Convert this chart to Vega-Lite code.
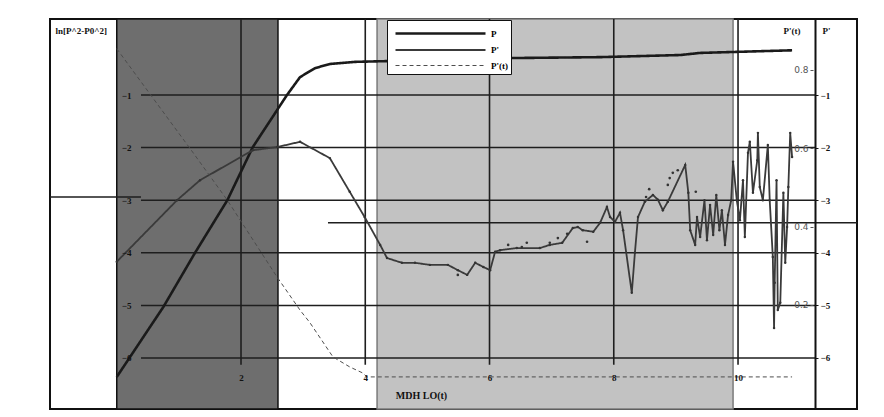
{
  "$schema": "https://vega.github.io/schema/vega-lite/v6.json",
  "width": 807,
  "height": 390,
  "autosize": {"type": "none"},
  "padding": {"left": 50, "top": 19, "right": 27, "bottom": 8},
  "background": "white",
  "config": {
    "view": {"stroke": "#111", "strokeWidth": 2},
    "axis": {
      "labelFont": "Liberation Serif", "titleFont": "Liberation Serif",
      "labelFontWeight": "bold", "titleFontWeight": "bold",
      "labelFontSize": 9, "titleFontSize": 9,
      "labelColor": "#111", "titleColor": "#111",
      "grid": false, "zindex": 1
    }
  },
  "datasets": {
    "bands": [{"x": 0, "x2": 2.595, "zone": "dark"}, {"x": 4.19, "x2": 9.92, "zone": "light"}],
    "hgrid": [{"y": -1}, {"y": -2}, {"y": -3}, {"y": -4}, {"y": -5}, {"y": -6}],
    "vgrid": [{"x": 2}, {"x": 4}, {"x": 6}, {"x": 8}, {"x": 10}],
    "extra": [{"x": -1.075, "x2": 0.39, "y": -2.94}, {"x": 3.4, "x2": 11.915, "y": -3.43}],
    "ptick": [{"v": 0.2}, {"v": 0.4}, {"v": 0.6}, {"v": 0.8}],
    "dots": [
      {"x": 5.49, "y": -4.42}, {"x": 6.3, "y": -3.85}, {"x": 6.52, "y": -3.89}, {"x": 6.6, "y": -3.81},
      {"x": 6.97, "y": -3.81}, {"x": 7.1, "y": -3.72}, {"x": 7.25, "y": -3.64}, {"x": 7.57, "y": -3.79},
      {"x": 8.52, "y": -2.94}, {"x": 8.57, "y": -2.79}, {"x": 8.87, "y": -2.71}, {"x": 8.9, "y": -2.58},
      {"x": 8.95, "y": -2.48}, {"x": 9.03, "y": -2.43}, {"x": 9.32, "y": -2.84}
    ],
    "series": [
      {"s": "P", "x": 0, "y": -6.36}, {"s": "P", "x": 0.75, "y": -5.03}, {"s": "P", "x": 1.26, "y": -4.0},
      {"s": "P", "x": 1.78, "y": -3.0}, {"s": "P", "x": 2.19, "y": -1.99}, {"s": "P", "x": 2.74, "y": -1.0},
      {"s": "P", "x": 2.95, "y": -0.66}, {"s": "P", "x": 3.19, "y": -0.49}, {"s": "P", "x": 3.43, "y": -0.41},
      {"s": "P", "x": 3.83, "y": -0.37}, {"s": "P", "x": 4.56, "y": -0.35}, {"s": "P", "x": 6.17, "y": -0.3},
      {"s": "P", "x": 7.78, "y": -0.28}, {"s": "P", "x": 9.07, "y": -0.24}, {"s": "P", "x": 9.39, "y": -0.2},
      {"s": "P", "x": 10.87, "y": -0.15},
      {"s": "P'", "x": 0, "y": -4.17}, {"s": "P'", "x": 0.97, "y": -3.0}, {"s": "P'", "x": 1.34, "y": -2.62},
      {"s": "P'", "x": 2.19, "y": -2.05}, {"s": "P'", "x": 2.58, "y": -1.99}, {"s": "P'", "x": 2.95, "y": -1.89},
      {"s": "P'", "x": 3.43, "y": -2.2}, {"s": "P'", "x": 3.75, "y": -2.84}, {"s": "P'", "x": 3.99, "y": -3.32},
      {"s": "P'", "x": 4.24, "y": -3.85}, {"s": "P'", "x": 4.35, "y": -4.1}, {"s": "P'", "x": 4.59, "y": -4.19},
      {"s": "P'", "x": 4.8, "y": -4.19}, {"s": "P'", "x": 5.04, "y": -4.23}, {"s": "P'", "x": 5.33, "y": -4.23},
      {"s": "P'", "x": 5.49, "y": -4.33}, {"s": "P'", "x": 5.64, "y": -4.42}, {"s": "P'", "x": 5.77, "y": -4.19},
      {"s": "P'", "x": 5.9, "y": -4.27}, {"s": "P'", "x": 6.01, "y": -4.33}, {"s": "P'", "x": 6.09, "y": -3.98},
      {"s": "P'", "x": 6.17, "y": -3.95}, {"s": "P'", "x": 6.44, "y": -3.91}, {"s": "P'", "x": 6.81, "y": -3.91},
      {"s": "P'", "x": 6.97, "y": -3.85}, {"s": "P'", "x": 7.17, "y": -3.81}, {"s": "P'", "x": 7.34, "y": -3.53},
      {"s": "P'", "x": 7.42, "y": -3.51}, {"s": "P'", "x": 7.5, "y": -3.57}, {"s": "P'", "x": 7.67, "y": -3.6},
      {"s": "P'", "x": 7.78, "y": -3.43}, {"s": "P'", "x": 7.89, "y": -3.13}, {"s": "P'", "x": 7.94, "y": -3.32},
      {"s": "P'", "x": 8.02, "y": -3.41}, {"s": "P'", "x": 8.1, "y": -3.24}, {"s": "P'", "x": 8.15, "y": -3.57},
      {"s": "P'", "x": 8.29, "y": -4.76}, {"s": "P'", "x": 8.34, "y": -4.0}, {"s": "P'", "x": 8.39, "y": -3.32},
      {"s": "P'", "x": 8.5, "y": -3.03}, {"s": "P'", "x": 8.63, "y": -2.9}, {"s": "P'", "x": 8.71, "y": -2.99},
      {"s": "P'", "x": 8.79, "y": -3.19}, {"s": "P'", "x": 8.87, "y": -3.03}, {"s": "P'", "x": 9.15, "y": -2.33},
      {"s": "P'", "x": 9.2, "y": -2.86}, {"s": "P'", "x": 9.23, "y": -3.57}, {"s": "P'", "x": 9.31, "y": -3.85},
      {"s": "P'", "x": 9.34, "y": -3.32}, {"s": "P'", "x": 9.39, "y": -3.7}, {"s": "P'", "x": 9.46, "y": -3.0},
      {"s": "P'", "x": 9.5, "y": -3.76}, {"s": "P'", "x": 9.55, "y": -3.09}, {"s": "P'", "x": 9.6, "y": -3.66},
      {"s": "P'", "x": 9.65, "y": -2.9}, {"s": "P'", "x": 9.7, "y": -3.57}, {"s": "P'", "x": 9.74, "y": -3.19},
      {"s": "P'", "x": 9.79, "y": -3.85}, {"s": "P'", "x": 9.84, "y": -3.28}, {"s": "P'", "x": 9.89, "y": -3.0},
      {"s": "P'", "x": 9.92, "y": -2.27}, {"s": "P'", "x": 9.98, "y": -3.0}, {"s": "P'", "x": 10.03, "y": -3.38},
      {"s": "P'", "x": 10.08, "y": -2.62}, {"s": "P'", "x": 10.11, "y": -3.7}, {"s": "P'", "x": 10.16, "y": -2.1},
      {"s": "P'", "x": 10.19, "y": -1.89}, {"s": "P'", "x": 10.24, "y": -2.86}, {"s": "P'", "x": 10.31, "y": -2.24},
      {"s": "P'", "x": 10.32, "y": -1.72}, {"s": "P'", "x": 10.35, "y": -2.75}, {"s": "P'", "x": 10.4, "y": -3.0},
      {"s": "P'", "x": 10.48, "y": -1.95}, {"s": "P'", "x": 10.51, "y": -3.0}, {"s": "P'", "x": 10.56, "y": -4.08},
      {"s": "P'", "x": 10.58, "y": -5.43}, {"s": "P'", "x": 10.59, "y": -4.57}, {"s": "P'", "x": 10.62, "y": -2.62},
      {"s": "P'", "x": 10.64, "y": -5.09}, {"s": "P'", "x": 10.68, "y": -4.95}, {"s": "P'", "x": 10.73, "y": -2.86},
      {"s": "P'", "x": 10.76, "y": -4.19}, {"s": "P'", "x": 10.79, "y": -3.51}, {"s": "P'", "x": 10.81, "y": -2.75},
      {"s": "P'", "x": 10.84, "y": -1.72}, {"s": "P'", "x": 10.87, "y": -2.18},
      {"s": "P'(t)", "x": 0, "y": -0.12}, {"s": "P'(t)", "x": 0.54, "y": -0.99}, {"s": "P'(t)", "x": 1.2, "y": -2.05},
      {"s": "P'(t)", "x": 1.78, "y": -3.0}, {"s": "P'(t)", "x": 2.58, "y": -4.46}, {"s": "P'(t)", "x": 2.95, "y": -5.09},
      {"s": "P'(t)", "x": 3.11, "y": -5.33}, {"s": "P'(t)", "x": 3.48, "y": -5.98}, {"s": "P'(t)", "x": 3.75, "y": -6.17},
      {"s": "P'(t)", "x": 3.95, "y": -6.28}, {"s": "P'(t)", "x": 4.03, "y": -6.36}, {"s": "P'(t)", "x": 6.0, "y": -6.36},
      {"s": "P'(t)", "x": 8.0, "y": -6.36}, {"s": "P'(t)", "x": 10.87, "y": -6.36}
    ]
  },
  "layer": [
    {
      "layer": [
        {
          "data": {"name": "bands"},
          "mark": {"type": "rect", "strokeWidth": 1.5},
          "encoding": {
            "x": {
              "field": "x", "type": "quantitative",
              "scale": {"domain": [-1.0745, 11.915], "nice": false, "zero": false},
              "axis": {
                "orient": "bottom", "offset": -36, "values": [2, 4, 6, 8, 10], "format": "d",
                "labelOverlap": false, "labelFlush": false, "zindex": 2,
                "domain": false, "ticks": false, "labelPadding": 0,
                "title": "MDH LO(t)", "titleX": 371, "titleY": 22,
                "titleAlign": "center", "titleBaseline": "middle", "titleFontSize": 10
              }
            },
            "x2": {"field": "x2"},
            "fill": {"field": "zone", "type": "nominal", "scale": {"domain": ["dark", "light"], "range": ["#6e6e6e", "#c2c2c2"]}, "legend": null},
            "stroke": {"field": "zone", "type": "nominal", "scale": {"domain": ["dark", "light"], "range": ["#111111", "#7a7a7a"]}, "legend": null}
          }
        },
        {
          "data": {"name": "hgrid"},
          "mark": {"type": "rule", "color": "#1e1e1e", "strokeWidth": 1.5},
          "encoding": {
            "x": {
              "datum": 0.39, "type": "quantitative",
              "axis": {
                "orient": "bottom", "offset": -36, "values": [2, 4, 6, 8, 10], "format": "d",
                "labelOverlap": false, "labelFlush": false, "zindex": 2,
                "domain": false, "ticks": false, "labelPadding": 0,
                "title": "MDH LO(t)", "titleX": 371, "titleY": 22,
                "titleAlign": "center", "titleBaseline": "middle", "titleFontSize": 10
              }
            },
            "x2": {"datum": 11.24},
            "y": {
              "field": "y", "type": "quantitative",
              "scale": {"domain": [-6.97, 0.445], "nice": false, "zero": false},
              "axis": {
                "orient": "left", "offset": -85, "values": [-1, -2, -3, -4, -5, -6],
                "domain": false, "ticks": false, "labelPadding": 4, "zindex": 2,
                "title": "ln[P^2-P0^2]", "titleAngle": 0, "titleX": -80, "titleY": 11,
                "titleAlign": "left", "titleBaseline": "middle"
              }
            }
          }
        },
        {
          "data": {"name": "extra"},
          "mark": {"type": "rule", "color": "#1e1e1e", "strokeWidth": 1.5},
          "encoding": {
            "x": {"field": "x", "type": "quantitative", "axis": {"title": "MDH LO(t)", "zindex": 2}},
            "x2": {"field": "x2"},
            "y": {"field": "y", "type": "quantitative"}
          }
        },
        {
          "data": {"name": "vgrid"},
          "mark": {"type": "rule", "color": "#1e1e1e", "strokeWidth": 1.6},
          "encoding": {
            "x": {"field": "x", "type": "quantitative", "axis": {"title": "MDH LO(t)", "zindex": 2}},
            "y": {"datum": 0.445, "type": "quantitative"},
            "y2": {"datum": -6.13}
          }
        },
        {
          "data": {"name": "series"},
          "mark": {"type": "line"},
          "encoding": {
            "x": {"field": "x", "type": "quantitative", "axis": {"title": "MDH LO(t)", "zindex": 2}},
            "y": {"field": "y", "type": "quantitative"},
            "color": {
              "field": "s", "type": "nominal",
              "scale": {"domain": ["P", "P'", "P'(t)"], "range": ["#1a1a1a", "#3a3a3a", "#4d4d4d"]},
              "legend": {
                "orient": "none", "legendX": 337, "legendY": 1, "title": null,
                "symbolType": "M-5,0H5", "symbolSize": 324, "symbolOffset": 40,
                "labelOffset": 40, "fillColor": "white",
                "strokeColor": "#111", "padding": 3, "rowPadding": 1,
                "labelFont": "Liberation Serif", "labelFontWeight": "bold", "labelFontSize": 9
              }
            },
            "strokeDash": {
              "field": "s", "type": "nominal",
              "scale": {"domain": ["P", "P'", "P'(t)"], "range": [[1, 0], [1, 0], [4, 3]]}
            },
            "strokeWidth": {
              "field": "s", "type": "nominal",
              "scale": {"domain": ["P", "P'", "P'(t)"], "range": [2.6, 1, 1.3]}
            }
          }
        },
        {
          "data": {"name": "series"},
          "transform": [{"filter": "datum.s === \"P'\""}],
          "mark": {"type": "point", "filled": true, "size": 6, "color": "#333", "opacity": 1},
          "encoding": {
            "x": {"field": "x", "type": "quantitative", "axis": {"title": "MDH LO(t)", "zindex": 2}},
            "y": {"field": "y", "type": "quantitative"}
          }
        },
        {
          "data": {"name": "dots"},
          "mark": {"type": "point", "filled": true, "size": 7, "color": "#333", "opacity": 1},
          "encoding": {
            "x": {"field": "x", "type": "quantitative", "axis": {"title": "MDH LO(t)", "zindex": 2}},
            "y": {"field": "y", "type": "quantitative"}
          }
        }
      ]
    },
    {
      "data": {"name": "hgrid"},
      "mark": {"type": "point", "opacity": 0},
      "encoding": {
        "y": {
          "field": "y", "type": "quantitative",
          "scale": {"domain": [-6.97, 0.445], "nice": false, "zero": false},
          "axis": {
            "orient": "right", "offset": -42, "values": [-1, -2, -3, -4, -5, -6],
            "domain": true, "domainColor": "#111", "domainWidth": 2, "zindex": 2,
            "ticks": true, "tickSize": 3, "tickColor": "#111", "labelPadding": 2,
            "title": "P'", "titleAngle": 0, "titleX": 7, "titleY": 11,
            "titleAlign": "left", "titleBaseline": "middle"
          }
        }
      }
    },
    {
      "data": {"name": "ptick"},
      "mark": {"type": "point", "opacity": 0},
      "encoding": {
        "y": {
          "field": "v", "type": "quantitative",
          "scale": {"domain": [-0.0655, 0.93], "nice": false, "zero": false},
          "axis": {
            "orient": "left", "offset": -763, "values": [0.2, 0.4, 0.6, 0.8],
            "format": ".1f", "domain": false, "ticks": true, "tickSize": 3, "tickColor": "#555",
            "labelPadding": 2, "labelFont": "DejaVu Sans", "labelFontWeight": "normal",
            "labelColor": "#555", "labelFontSize": 9, "zindex": 2,
            "title": "P'(t)", "titleAngle": 0, "titleX": -13, "titleY": 11,
            "titleAlign": "right", "titleBaseline": "middle"
          }
        }
      }
    }
  ],
  "resolve": {"scale": {"y": "independent"}, "axis": {"y": "independent"}}
}
